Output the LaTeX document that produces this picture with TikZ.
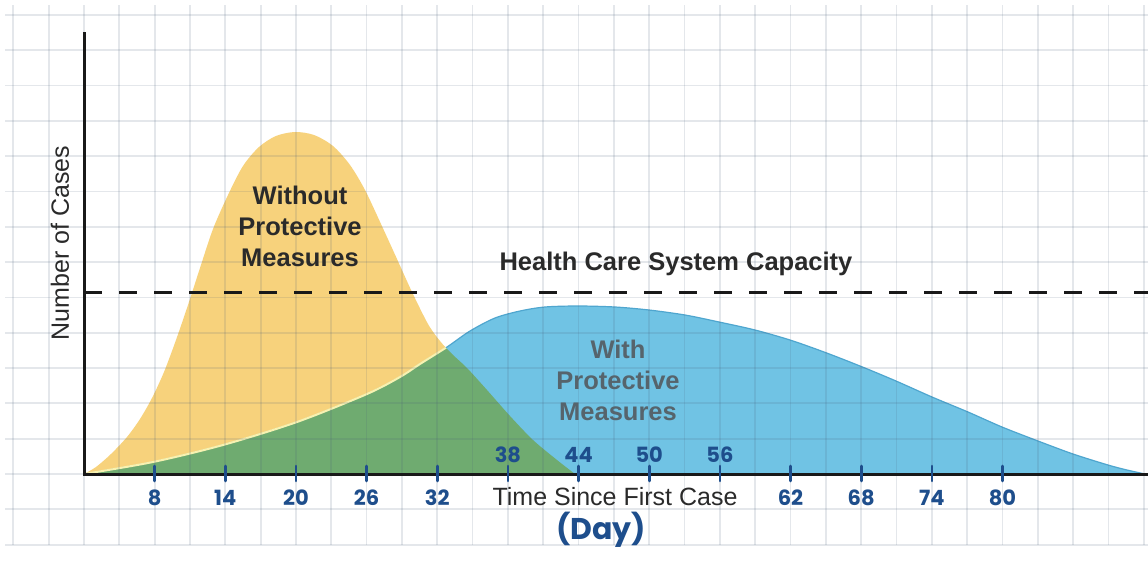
\documentclass[tikz,border=0pt]{standalone}
\usepackage{fontspec}
\setmainfont{Liberation Sans}
\newfontfamily\hand{Poppins}
\definecolor{yel}{HTML}{F7D27C}
\definecolor{blu}{HTML}{70C3E4}
\definecolor{grn}{HTML}{6FAB70}
\definecolor{bluedge}{HTML}{4FA6CF}
\definecolor{pale}{HTML}{F8F2B0}
\definecolor{gridc}{HTML}{465A78}
\definecolor{ink}{HTML}{1E4E8C}
\definecolor{dark}{HTML}{2A2A2A}
\definecolor{withc}{HTML}{56646C}
\tikzset{
  gridline/.style={draw=gridc, draw opacity=0.14, line width=1.7},
  axisline/.style={draw=black!90, line width=3},
  capline/.style={draw=black!90, line width=3, dash pattern=on 18 off 17},
  tickmark/.style={draw=ink, line width=2.6, line cap=round},
  handlbl/.style={font=\hand\bfseries\fontsize{21}{24}\selectfont, text=ink, inner sep=0},
  boldlbl/.style={font=\bfseries\fontsize{25.5}{31}\selectfont, align=center, inner sep=0},
  plainlbl/.style={font=\fontsize{25}{30}\selectfont, text=dark, inner sep=0},
}
\def\ypath{plot[smooth,tension=0.5] coordinates {(84,474) (96,467) (111,454) (127,437) (140,419) (152,398) (164,372) (176,340) (188,305) (200,268) (213,229) (228,195) (243,166) (259,147) (276,136) (295,132) (314,135) (333,146) (350,165) (365,190) (381,224) (397,259) (412,292) (428,324) (440,341) (452,354) (467,368) (487,390) (510,416) (533,440) (557,460) (575,474)}}
\def\bpath{plot[smooth,tension=0.5] coordinates {(84,474) (153,462) (223,445) (297,422) (367,394) (400,377) (420,364) (447,347) (470,331) (495,318) (520,311) (545,307) (578,306) (615,307) (649,310) (685,315) (719,322) (755,330) (790,340) (824,352) (860,366) (896,381) (932,397) (968,412) (1002,427) (1038,441) (1073,454) (1108,465) (1127,470) (1145,474)}}
\begin{document}
\begin{tikzpicture}[x=1pt,y=-1pt]
\useasboundingbox (0,0) rectangle (1148,560);
\fill[white] (0,0) rectangle (1148,560);
% curves
\fill[yel] \ypath -- cycle;
\fill[blu] \bpath -- cycle;
\begin{scope}
  \clip \bpath -- cycle;
  \fill[grn] \ypath -- cycle;
\end{scope}
\draw[bluedge, line width=1.2] \bpath;
\begin{scope}
  \clip \ypath -- cycle;
  \draw[pale, line width=2] \bpath;
\end{scope}
% grid
\foreach \k in {-2,...,30} \draw[gridline] ({84+35.33*\k},5) -- ({84+35.33*\k},545);
\foreach \k in {-2,...,13} \draw[gridline] (5,{474-35.33*\k}) -- (1148,{474-35.33*\k});
% axes
\coordinate (ytop) at (84,32);
\coordinate (orig) at (84,474);
\coordinate (xend) at (1148,474);
\coordinate (capL) at (84,292);
\coordinate (capR) at (1148,292);
\draw[axisline] (ytop) -- (orig) -- (xend);
\draw[capline] (capL) -- (capR);
% ticks and labels
\foreach \d [count=\i from 0] in {8,14,20,26,32,38,44,50,56,62,68,74,80} {
  \coordinate (t\d) at ({154.6+70.66*\i},474);
  \draw[tickmark] ([yshift=-7]t\d) -- ([yshift=8]t\d);
}
\foreach \d in {8,14,20,26,32,62,68,74,80}
  \node[handlbl] (l\d) at ([yshift=-24]t\d) {\d};
\foreach \d in {38,44,50,56}
  \node[handlbl] (l\d) at ([yshift=19]t\d) {\d};
% texts
\node[boldlbl, text=dark] (without) at (300,226) {Without\\Protective\\Measures};
\node[boldlbl, text=withc] (with) at (618,380) {With\\Protective\\Measures};
\node[boldlbl, text=dark] (hcsc) at (676,264) {Health Care System Capacity};
\node[plainlbl] (time) at (615,497) {Time Since First Case};
\node[plainlbl, rotate=90] (ncases) at (60,243) {Number of Cases};
\node[handlbl, font=\hand\bfseries\fontsize{30}{34}\selectfont] (day) at (601,530) {(Day)};
\end{tikzpicture}
\end{document}
